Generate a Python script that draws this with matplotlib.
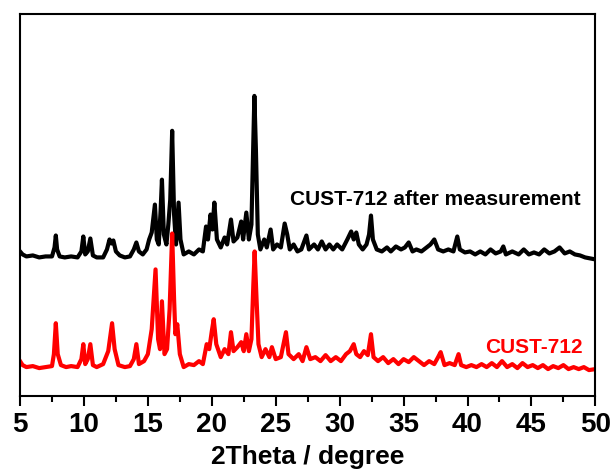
import matplotlib
matplotlib.use('Agg')
import matplotlib.pyplot as plt
from matplotlib.ticker import MultipleLocator

# 2theta (degree) and intensity (a.u., already offset as drawn)
after_x = [5.0, 5.2, 5.5, 6.0, 6.5, 7.0, 7.5, 7.7, 7.8, 7.9, 8.1, 8.5, 9.0, 9.5, 9.8, 9.95, 10.1, 10.3, 10.5, 10.7,
           11.0, 11.5, 11.8, 12.0, 12.15, 12.3, 12.5, 12.8, 13.2, 13.6, 13.9, 14.1, 14.3, 14.6, 14.9, 15.1, 15.3, 15.4,
           15.55, 15.7, 15.85, 16.0, 16.1, 16.25, 16.45, 16.6, 16.75, 16.9, 17.05, 17.2, 17.4, 17.55, 17.8, 18.2, 18.6,
           19.0, 19.3, 19.55, 19.7, 19.9, 20.05, 20.2, 20.4, 20.7, 21.0, 21.2, 21.5, 21.7, 22.0, 22.3, 22.45, 22.7, 22.9,
           23.1, 23.25, 23.33, 23.45, 23.6, 23.8, 24.1, 24.3, 24.6, 24.8, 25.1, 25.4, 25.7, 25.9, 26.1, 26.4, 26.7, 27.0,
           27.4, 27.6, 28.0, 28.3, 28.6, 28.9, 29.2, 29.5, 29.8, 30.2, 30.6, 30.9, 31.1, 31.3, 31.5, 31.8, 32.1, 32.3,
           32.45, 32.6, 32.9, 33.3, 33.7, 34.0, 34.4, 34.8, 35.1, 35.4, 35.7, 36.0, 36.4, 36.8, 37.1, 37.4, 37.7, 38.1,
           38.5, 38.9, 39.2, 39.4, 39.8, 40.2, 40.6, 41.0, 41.4, 41.8, 42.2, 42.6, 42.8, 43.0, 43.5, 44.0, 44.4, 44.8,
           45.2, 45.6, 46.0, 46.4, 46.8, 47.2, 47.6, 48.0, 48.4, 48.8, 49.2, 49.6, 50.0]
after_y = [148, 145, 143, 144, 142, 143, 143, 152, 164, 150, 143, 142, 143, 142, 148, 163, 145, 148, 161, 144,
           142, 142, 150, 160, 156, 159, 148, 144, 142, 143, 150, 157, 148, 145, 150, 160, 167, 178,
           195, 160, 155, 190, 220, 165, 155, 175, 200, 269, 185, 155, 197, 160, 145, 148, 145,
           150, 148, 173, 160, 185, 170, 197, 160, 152, 162, 155, 180, 158, 162, 178, 160, 187, 160,
           175, 260, 304, 250, 165, 150, 160, 152, 170, 150, 155, 152, 176, 165, 150, 155, 148, 150,
           164, 150, 155, 150, 158, 150, 155, 150, 155, 150, 160, 168, 160, 167, 155, 150, 155, 165,
           184, 160, 150, 148, 152, 148, 153, 150, 152, 157, 148, 150, 148, 152, 155, 160, 150, 148,
           150, 148, 163, 150, 147, 148, 145, 148, 145, 150, 146, 148, 153, 145, 148, 145, 150, 145,
           147, 145, 150, 146, 148, 152, 146, 148, 145, 144, 142, 141, 140]

cust_x = [5.0, 5.2, 5.5, 6.0, 6.5, 7.0, 7.5, 7.65, 7.8, 7.95, 8.2, 8.6, 9.0, 9.5, 9.8, 9.95, 10.1, 10.3, 10.5, 10.7,
          11.0, 11.5, 11.9, 12.2, 12.4, 12.7, 13.2, 13.6, 13.9, 14.1, 14.3, 14.7, 15.0, 15.3, 15.6, 15.8, 15.95, 16.1,
          16.3, 16.5, 16.7, 16.9, 17.05, 17.15, 17.3, 17.5, 17.8, 18.2, 18.6, 19.0, 19.3, 19.6, 19.8, 20.0, 20.15,
          20.35, 20.7, 21.0, 21.3, 21.5, 21.7, 22.0, 22.3, 22.5, 22.7, 22.9, 23.1, 23.25, 23.35, 23.5, 23.65, 23.9,
          24.2, 24.5, 24.7, 25.0, 25.4, 25.8, 26.0, 26.4, 26.8, 27.1, 27.4, 27.7, 28.1, 28.5, 28.9, 29.3, 29.7, 30.1,
          30.5, 30.8, 31.1, 31.3, 31.6, 31.9, 32.2, 32.45, 32.65, 33.0, 33.4, 33.8, 34.2, 34.6, 35.0, 35.4, 35.8,
          36.2, 36.6, 37.0, 37.4, 37.7, 37.9, 38.2, 38.6, 39.0, 39.3, 39.5, 39.9, 40.3, 40.7, 41.1, 41.5, 41.9, 42.3,
          42.7, 43.1, 43.5, 43.9, 44.3, 44.7, 45.1, 45.5, 45.9, 46.3, 46.7, 47.1, 47.5, 47.9, 48.3, 48.7, 49.1, 49.5,
          50.0]
cust_y = [38, 34, 32, 33, 31, 32, 33, 45, 76, 45, 34, 32, 33, 32, 40, 55, 35, 40, 55, 34,
          32, 35, 48, 76, 50, 34, 32, 33, 40, 55, 35, 38, 45, 70, 130, 60, 50, 98,
          45, 50, 90, 166, 100, 65, 75, 45, 32, 35, 34, 38, 35, 55, 50, 68, 80,
          55, 42, 50, 45, 67, 48, 52, 57, 48, 65, 48, 60, 115, 148, 100, 55, 42,
          50, 42, 52, 40, 42, 67, 45, 40, 45, 38, 52, 40, 42, 38, 44, 38, 42, 38,
          45, 48, 55, 45, 42, 48, 44, 65, 42, 38, 42, 36, 40, 35, 40, 37, 42,
          38, 34, 38, 35, 42, 47, 34, 36, 34, 45, 34, 32, 34, 32, 35, 32, 36, 32,
          38, 32, 35, 31, 36, 32, 34, 31, 34, 30, 33, 31, 34, 30, 32, 30, 32, 29,
          30]

labels = ['CUST-712 after measurement', 'CUST-712']
xticks = [5, 10, 15, 20, 25, 30, 35, 40, 45, 50]

plt.rcParams['font.family'] = ['Liberation Sans', 'DejaVu Sans']
plt.rcParams['font.weight'] = 'bold'

fig = plt.figure(figsize=(6.16, 4.72), dpi=100)
ax = fig.add_axes([0.0325, 0.161, 0.934, 0.809])

ax.plot(after_x, after_y, color='black', lw=3, solid_joinstyle='round')
ax.plot(cust_x, cust_y, color='#ff0000', lw=3, solid_joinstyle='round')

ax.text(48.85, 200, labels[0], color='black', fontsize=15, fontweight='bold', ha='right', va='center')
ax.text(49.05, 52, labels[1], color='#ff0000', fontsize=15, fontweight='bold', ha='right', va='center')

ax.set_xlim(5, 50)
ax.set_ylim(3, 386)
ax.set_xticks(xticks)
ax.xaxis.set_minor_locator(MultipleLocator(2.5))
ax.set_yticks([])
ax.tick_params(axis='x', which='major', direction='out', length=7.5, width=1.5, labelsize=20, pad=4)
ax.tick_params(axis='x', which='minor', direction='out', length=4, width=1.5)
for lbl in ax.get_xticklabels():
  lbl.set_fontweight('bold')
for s in ax.spines.values():
  s.set_linewidth(1.5)
ax.set_xlabel('2Theta / degree', fontsize=19, fontweight='bold', labelpad=5)

fig.savefig('out.png', dpi=100)
